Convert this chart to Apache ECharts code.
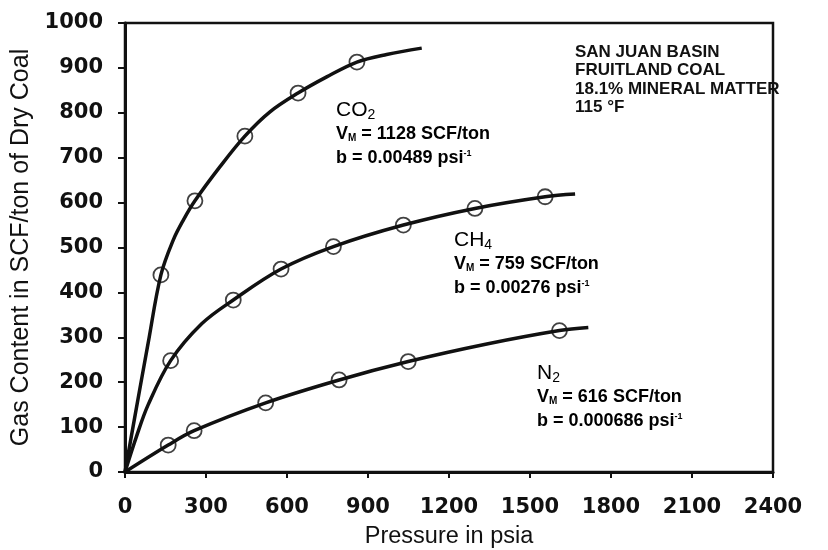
<!DOCTYPE html>
<html>
<head>
<meta charset="utf-8">
<script src="https://cdn.jsdelivr.net/npm/echarts@6/dist/echarts.min.js"></script>
<style>
  html, body { margin: 0; padding: 0; background: #fff; }
  #chart { width: 828px; height: 550px; }
</style>
</head>
<body>
<div id="chart"></div>
<script>
// measured points (pressure psia, gas content SCF/ton)
const co2Points = [[133, 439], [259, 604], [444, 748], [641, 844], [859, 913]]
const ch4Points = [[169, 248], [401, 383], [578, 452], [772, 502], [1031, 550], [1296, 587], [1556, 613]]
const n2Points = [[160, 60], [256, 92], [521, 154], [793, 205], [1049, 246], [1609, 315]]

// fitted curves
const co2Curve = [[0, 0], [37, 125], [86, 288], [133, 439], [179, 517], [216, 561], [259, 604], [352, 680], [444, 748], [537, 802], [641, 844], [747, 880], [859, 913], [969, 930], [1099, 944]]
const ch4Curve = [[0, 0], [43, 80], [86, 150], [169, 248], [284, 330], [401, 383], [578, 452], [772, 502], [1031, 550], [1296, 587], [1556, 613], [1667, 619]]
const n2Curve = [[0, 0], [160, 60], [256, 92], [521, 154], [793, 205], [1049, 246], [1340, 285], [1609, 315], [1716, 322]]

const ink = '#111'
const labelFont = 'DejaVu Sans'
const textFont = 'Liberation Sans'

var chart = echarts.init(document.getElementById('chart'))

function curve(name, data) {
  return {
    name: name, type: 'line', data: data,
    smooth: 0.35,
    showSymbol: false, symbol: 'none',
    lineStyle: { color: ink, width: 3.5 },
    z: 2
  }
}
function dots(name, data) {
  return {
    name: name, type: 'scatter', data: data,
    symbol: 'circle', symbolSize: 15,
    itemStyle: { color: 'rgba(0,0,0,0)', borderColor: ink, borderWidth: 1.8 },
    z: 3
  }
}

const rich = {
  big: { fontFamily: textFont, fontSize: 21, color: ink },
  bsub: { fontFamily: textFont, fontSize: 14, color: ink, padding: [10, 0, 0, 0] },
  t: { fontFamily: textFont, fontSize: 18, fontWeight: 'bold', color: ink },
  sub: { fontFamily: textFont, fontSize: 10, fontWeight: 'bold', color: ink, padding: [8, 0, 0, 0] },
  sup: { fontFamily: textFont, fontSize: 9, fontWeight: 'bold', color: ink, padding: [0, 0, 9, 0] }
}

function note(left, top, lines) {
  return {
    type: 'text', left: left, top: top,
    style: { text: lines.join('\n'), rich: rich, lineHeight: 24 }
  }
}

let options = {
  backgroundColor: '#fff',
  animation: false,
  grid: {
    left: 125, right: 55, top: 23, bottom: 78,
    outerBoundsMode: 'none',
    show: true, borderColor: ink, borderWidth: 2.5
  },
  xAxis: {
    type: 'value', min: 0, max: 2400, interval: 300,
    name: 'Pressure in psia', nameLocation: 'middle', nameGap: 53,
    nameTextStyle: { fontFamily: textFont, fontSize: 23.5, color: ink },
    axisLine: { show: true, lineStyle: { color: ink, width: 3 } },
    axisTick: { show: true, length: 6, lineStyle: { color: ink, width: 2 } },
    axisLabel: {
      margin: 25, fontFamily: labelFont, fontWeight: 'bold', fontSize: 21, color: ink,
      formatter: v => String(v)
    },
    splitLine: { show: false }
  },
  yAxis: {
    type: 'value', min: 0, max: 1000, interval: 100,
    name: 'Gas Content in SCF/ton of Dry Coal', nameLocation: 'middle', nameGap: 79,
    nameTextStyle: { fontFamily: textFont, fontSize: 25, color: ink },
    axisLine: { show: true, lineStyle: { color: ink, width: 3 } },
    axisTick: { show: true, length: 7, lineStyle: { color: ink, width: 2 } },
    axisLabel: {
      margin: 22, fontFamily: labelFont, fontWeight: 'bold', fontSize: 21, color: ink,
      formatter: v => String(v)
    },
    splitLine: { show: false }
  },
  series: [
    curve('CO2', co2Curve), curve('CH4', ch4Curve), curve('N2', n2Curve),
    dots('CO2 data', co2Points), dots('CH4 data', ch4Points), dots('N2 data', n2Points)
  ],
  graphic: [
    {
      type: 'text', left: 575, top: 43,
      style: {
        text: 'SAN JUAN BASIN\nFRUITLAND COAL\n18.1% MINERAL MATTER\n115 °F',
        font: 'bold 17px "Liberation Sans"',
        fill: ink, lineHeight: 18.5
      }
    },
    note(336, 98, ['{big|CO}{bsub|2}', '{t|V}{sub|M}{t| = 1128 SCF/ton}', '{t|b = 0.00489 psi}{sup|-1}']),
    note(454, 228, ['{big|CH}{bsub|4}', '{t|V}{sub|M}{t| = 759 SCF/ton}', '{t|b = 0.00276 psi}{sup|-1}']),
    note(537, 361, ['{big|N}{bsub|2}', '{t|V}{sub|M}{t| = 616 SCF/ton}', '{t|b = 0.000686 psi}{sup|-1}'])
  ]
}
chart.setOption(options)
</script>
</body>
</html>
